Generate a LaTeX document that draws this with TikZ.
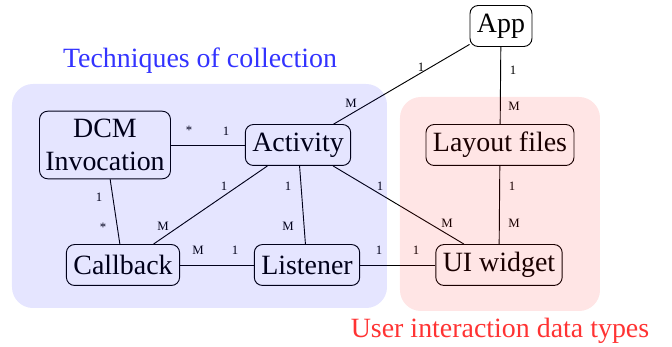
\documentclass[tikz,border=0pt]{standalone}
\usepackage{fontspec}
\setmainfont{Liberation Serif}
\begin{document}
\begin{tikzpicture}[x=0.43pt,y=-0.43pt, line width=0.4pt,
  box/.style={draw, rounded corners=3.5pt, font=\large, inner xsep=3pt, inner ysep=0pt, minimum height=17.6pt, align=center},
  lab/.style={font=\fontsize{5.5}{6}\selectfont, inner sep=0pt},
  conn/.style={line width=0.4pt}]
\useasboundingbox (0,0) rectangle (672,347);
\node[box] (app) at (501,26) {App};
\node[box] (layout) at (500,145) {Layout files};
\node[box] (ui) at (499,265) {UI widget};
\node[box] (act) at (298,145) {Activity};
\node[box, inner ysep=3.5pt, inner xsep=2.5pt] (dcm) at (105,145) {DCM\\Invocation};
\node[box] (cb) at (123,265) {Callback};
\node[box] (lis) at (307,265) {Listener};
\draw[conn] (act) -- (app);
\draw[conn] (app) -- (layout);
\draw[conn] (layout) -- (ui);
\draw[conn] (dcm) -- (act);
\draw[conn] (dcm) -- (cb);
\draw[conn] (act) -- (cb);
\draw[conn] (act) -- (lis);
\draw[conn] (act) -- (ui);
\draw[conn] (cb) -- (lis);
\draw[conn] (lis) -- (ui);
\node[lab] (l1) at (421,67) {1};
\node[lab] (l2) at (351,103) {M};
\node[lab] (l3) at (513,70) {1};
\node[lab] (l4) at (514,106) {M};
\node[lab] (l5) at (512,186) {1};
\node[lab] (l6) at (514,223) {M};
\node[lab] (l7) at (189,130) {*};
\node[lab] (l8) at (226,131) {1};
\node[lab] (l9) at (99,197) {1};
\node[lab] (l10) at (103,227) {*};
\node[lab] (l11) at (224,186) {1};
\node[lab] (l12) at (163,226) {M};
\node[lab] (l13) at (288,186) {1};
\node[lab] (l14) at (288,226) {M};
\node[lab] (l15) at (380,186) {1};
\node[lab] (l16) at (447,223) {M};
\node[lab] (l17) at (198,250) {M};
\node[lab] (l18) at (235,250) {1};
\node[lab] (l19) at (379,250) {1};
\node[lab] (l20) at (416,250) {1};
\fill[blue, fill opacity=0.1, rounded corners=9pt] (12,84) rectangle (387,308);
\fill[red, fill opacity=0.1, rounded corners=9pt] (400,97) rectangle (600,311);
\node[text=blue!80, font=\large] (t1) at (200,61) {Techniques of collection};
\node[text=red!80, font=\large] (t2) at (500,331) {User interaction data types};
\end{tikzpicture}
\end{document}
